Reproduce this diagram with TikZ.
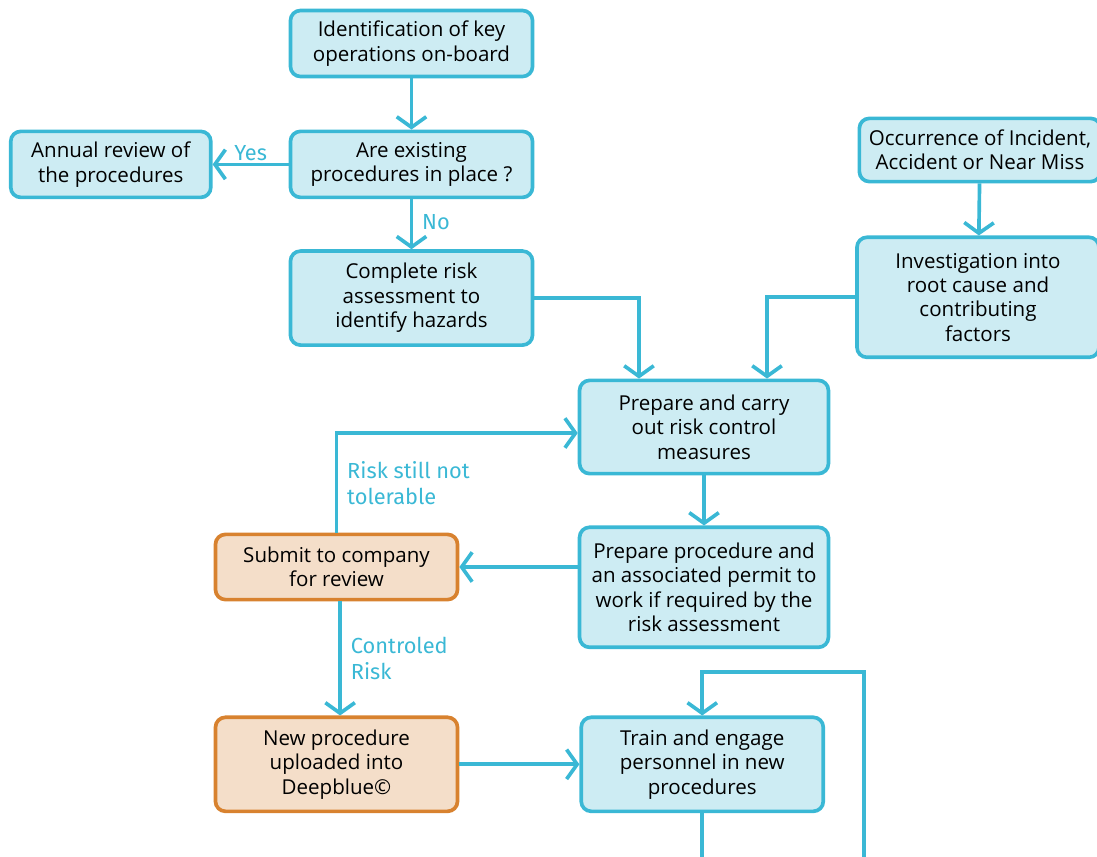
\documentclass[tikz,border=0pt]{standalone}
\usepackage{fontspec}
\setmainfont{Open Sans}
\newfontfamily\labelfont{Fira Sans}
\usetikzlibrary{arrows.meta, positioning}
\definecolor{lineblue}{HTML}{3AB8D5}
\definecolor{fillblue}{HTML}{CDECF3}
\definecolor{lineorange}{HTML}{D8822F}
\definecolor{fillorange}{HTML}{F4DEC9}
\tikzset{
  stepbox/.style={
    minimum width=6.05cm,
    minimum height=1.65cm,
    align=center,
    draw=lineblue,
    fill=fillblue,
    line width=2.6pt,
    rounded corners=0.25cm,
    font=\fontsize{14.6}{17.4}\selectfont
  },
  companybox/.style={
    stepbox,
    draw=lineorange,
    fill=fillorange
  },
  lbl/.style={
    align=left,
    text=lineblue,
    font=\labelfont\fontsize{15.5}{18.5}\selectfont
  },
  arrow/.style={draw=lineblue, line width=2.6pt, -{Straight Barb[length=7.5pt, width=21pt]}},
  link/.style={draw=lineblue, line width=2.6pt}
}
\begin{document}
\begin{tikzpicture}[x=0.025cm, y=-0.025cm, node distance=1.2cm, every edge/.style={arrow}]
  \useasboundingbox (0,0) rectangle (1097,856);
  \node (ident) [stepbox] at (411.5, 43.5) {Identification of key \\ operations on-board};
  \node (exist) [stepbox, below=1.28cm of ident] {Are existing \\ procedures in place ?};
  \node (annual) [stepbox, minimum width=5.0cm, left=1.9cm of exist] {Annual review of \\ the procedures};
  \node (complete) [stepbox, minimum height=2.35cm, below=1.25cm of exist] {Complete risk \\
    assessment to \\ identify hazards};
  \node (occur) [stepbox, minimum width=6.03cm, minimum height=1.58cm] at (980, 150) {Occurrence of Incident, \\
    Accident or Near Miss};
  \node (invest) [stepbox, minimum height=3.0cm, below=1.3cm of occur.south, anchor=north, xshift=-0.05cm] {Investigation into \\
    root cause and \\ contributing \\ factors};
  \node (carry) [stepbox, minimum width=6.22cm, minimum height=2.33cm] at (704, 427) {Prepare and carry \\
    out risk control \\ measures};
  \node (permit) [stepbox, minimum width=6.22cm, minimum height=3.0cm, below=1.25cm of carry] {Prepare procedure and \\
    an associated permit to \\ work if required by the \\ risk assessment};
  \node (submit) [companybox, minimum height=1.63cm] at (336.5, 567) {Submit to company \\ for review};
  \node (upload) [companybox, minimum height=2.35cm, below=2.85cm of submit] {New procedure \\
    uploaded into \\ Deepblue\textcopyright};
  \node (train) [stepbox, minimum height=2.35cm, right=3.0cm of upload] {Train and engage \\
    personnel in new \\ procedures};
  \coordinate (carryin) at ([yshift=-0.15cm]carry.west);
  \coordinate (trainout) at (704, 862);
  \coordinate (loopin) at (864, 862);
  \coordinate (looptop) at (864, 672);
  \draw [arrow] (exist) -- node [lbl, above, yshift=-2pt] {Yes} (annual);
  \draw [arrow] (exist) -- node [lbl, right, pos=0.45, xshift=3pt] {No} (complete);
  \draw [arrow] (complete.east) -| ([xshift=-1.625cm]carry.north);
  \draw [arrow] (invest.west) -| ([xshift=1.575cm]carry.north);
  \draw [arrow] (submit.north) -- node [lbl, right, xshift=3pt] {Risk still not \\ tolerable}
    (submit.north |- carryin) -- (carryin);
  \draw [arrow] ([xshift=0.09cm]submit.south) -- node [lbl, right, xshift=3pt] {Controled \\ Risk}
    ([xshift=0.09cm]upload.north);
  \draw [arrow] (permit.west |- submit.east) -- (submit.east);
  \draw [arrow] (upload.east) -- (upload.east -| train.west);
  \draw [link] (train.south) -- (train.south |- trainout);
  \draw [arrow] (loopin) -- (looptop) -| (train.north);
  \path
  (ident) edge (exist)
  (occur) edge (invest)
  (carry) edge (permit)
  ;
\end{tikzpicture}
\end{document}
